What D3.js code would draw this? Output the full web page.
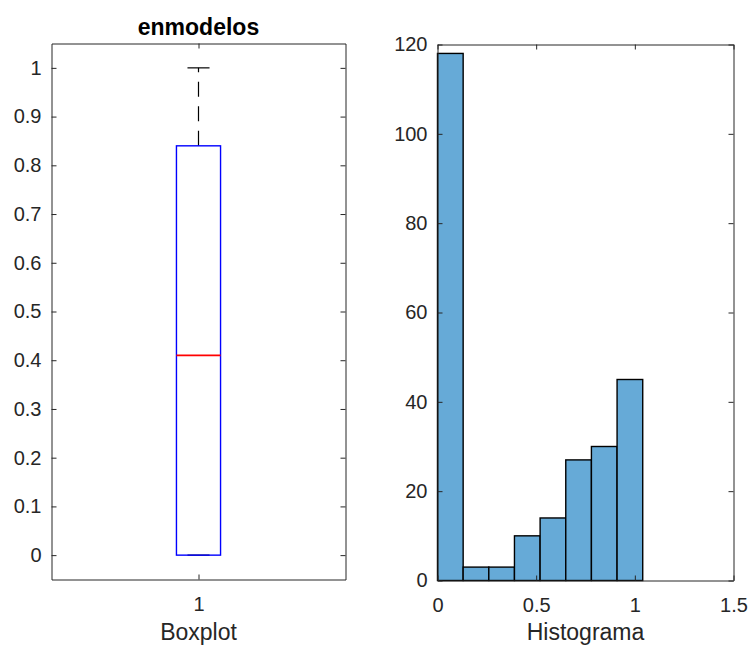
<!DOCTYPE html>
<html>
<head>
<meta charset="utf-8">
<script src="https://cdn.jsdelivr.net/npm/d3@7"></script>
<style>
  html, body { margin: 0; padding: 0; background: #fff; }
  svg { display: block; }
  text { font-family: "Liberation Sans", Arial, Helvetica, sans-serif; fill: #262626; }
</style>
</head>
<body>
<svg id="chart" width="750" height="646"></svg>
<script>
// ---- data ----
const boxCategories = [1];
const boxLowerWhisker = [0];
const boxQ1 = [0];
const boxMedian = [0.41];
const boxQ3 = [0.84];
const boxUpperWhisker = [1];
const boxYTicks = [0, 0.1, 0.2, 0.3, 0.4, 0.5, 0.6, 0.7, 0.8, 0.9, 1];
const boxYTickLabels = ["0", "0.1", "0.2", "0.3", "0.4", "0.5", "0.6", "0.7", "0.8", "0.9", "1"];

const binEdges = [0, 0.13, 0.26, 0.39, 0.52, 0.65, 0.78, 0.91, 1.04];
const binCounts = [118, 3, 3, 10, 14, 27, 30, 45];
const histXTicks = [0, 0.5, 1, 1.5];
const histXTickLabels = ["0", "0.5", "1", "1.5"];
const histYTicks = [0, 20, 40, 60, 80, 100, 120];

const titleText = "enmodelos";
const boxXLabel = "Boxplot";
const histXLabel = "Histograma";

// ---- layout ----
const svg = d3.select("#chart");
const axisColor = "#262626";
const tickFont = 20;
const labelFont = 23;

function styleAxis(g) {
  g.selectAll("path.domain").attr("stroke", axisColor).attr("stroke-width", 1);
  g.selectAll(".tick line").attr("stroke", axisColor).attr("stroke-width", 1);
  g.selectAll(".tick text").attr("fill", axisColor)
    .style("font-size", tickFont + "px")
    .style("font-family", '"Liberation Sans", Arial, sans-serif');
  g.attr("font-size", null).attr("font-family", null);
}

function drawFrame(x, y, xTicks, xFmt, yTicks, yFmt) {
  const [xa, xb] = x.range();
  const [ya, yb] = y.range(); // ya bottom, yb top
  const tl = 5;
  svg.append("g").attr("transform", `translate(0,${ya})`)
    .call(d3.axisBottom(x).tickValues(xTicks).tickFormat(xFmt).tickSize(-tl).tickSizeOuter(0).tickPadding(17))
    .call(styleAxis);
  svg.append("g").attr("transform", `translate(0,${yb})`)
    .call(d3.axisTop(x).tickValues(xTicks).tickFormat("").tickSize(-tl).tickSizeOuter(0))
    .call(styleAxis);
  svg.append("g").attr("transform", `translate(${xa},0)`)
    .call(d3.axisLeft(y).tickValues(yTicks).tickFormat(yFmt).tickSize(-tl).tickSizeOuter(0).tickPadding(10))
    .call(styleAxis);
  svg.append("g").attr("transform", `translate(${xb},0)`)
    .call(d3.axisRight(y).tickValues(yTicks).tickFormat("").tickSize(-tl).tickSizeOuter(0))
    .call(styleAxis);
}

// ---- left panel: box plot ----
const bx = d3.scaleLinear().domain([0.5, 1.5]).range([51.5, 345.5]);
const by = d3.scaleLinear().domain([-0.05, 1.05]).range([579.5, 43.5]);
const boxHalf = 0.075;   // half box width in category units
const capHalf = 0.0375;  // half whisker-cap width

const gb = svg.append("g");
boxCategories.forEach((c, i) => {
  // whiskers (dashed)
  gb.append("line")
    .attr("x1", bx(c)).attr("x2", bx(c))
    .attr("y1", by(boxQ3[i])).attr("y2", by(boxUpperWhisker[i]))
    .attr("stroke", "#000").attr("stroke-width", 1.2).attr("stroke-dasharray", "15,9.5");
  gb.append("line")
    .attr("x1", bx(c)).attr("x2", bx(c))
    .attr("y1", by(boxQ1[i])).attr("y2", by(boxLowerWhisker[i]))
    .attr("stroke", "#000").attr("stroke-width", 1.2).attr("stroke-dasharray", "15,9.5");
  // caps
  [boxUpperWhisker[i], boxLowerWhisker[i]].forEach(v => {
    gb.append("line")
      .attr("x1", bx(c - capHalf)).attr("x2", bx(c + capHalf))
      .attr("y1", by(v)).attr("y2", by(v))
      .attr("stroke", "#000").attr("stroke-width", 1.2);
  });
  // box
  gb.append("rect")
    .attr("x", bx(c - boxHalf)).attr("width", bx(c + boxHalf) - bx(c - boxHalf))
    .attr("y", by(boxQ3[i])).attr("height", by(boxQ1[i]) - by(boxQ3[i]))
    .attr("fill", "none").attr("stroke", "#0000ff").attr("stroke-width", 1.4);
  // median
  gb.append("line")
    .attr("x1", bx(c - boxHalf)).attr("x2", bx(c + boxHalf))
    .attr("y1", by(boxMedian[i])).attr("y2", by(boxMedian[i]))
    .attr("stroke", "#ff0000").attr("stroke-width", 1.6);
});

drawFrame(bx, by, boxCategories, d => String(d), boxYTicks, (d, i) => boxYTickLabels[i]);

svg.append("text").attr("x", 198.5).attr("y", 35).attr("text-anchor", "middle")
  .style("font-size", labelFont + "px").style("font-weight", "bold")
  .style("fill", "#000").text(titleText);
svg.append("text").attr("x", 198.5).attr("y", 640).attr("text-anchor", "middle")
  .style("font-size", labelFont + "px").text(boxXLabel);

// ---- right panel: histogram ----
const hx = d3.scaleLinear().domain([0, 1.5]).range([437.5, 733.5]);
const hy = d3.scaleLinear().domain([0, 120]).range([580.5, 44.5]);

const bins = binCounts.map((n, i) => ({ x0: binEdges[i], x1: binEdges[i + 1], n }));
svg.append("g").selectAll("rect").data(bins).join("rect")
  .attr("x", d => hx(d.x0)).attr("width", d => hx(d.x1) - hx(d.x0))
  .attr("y", d => hy(d.n)).attr("height", d => hy(0) - hy(d.n))
  .attr("fill", "#66aad7").attr("stroke", "#000").attr("stroke-width", 1.4);

drawFrame(hx, hy, histXTicks, (d, i) => histXTickLabels[i], histYTicks, d => String(d));

svg.append("text").attr("x", 585.5).attr("y", 640).attr("text-anchor", "middle")
  .style("font-size", labelFont + "px").text(histXLabel);
</script>
</body>
</html>
